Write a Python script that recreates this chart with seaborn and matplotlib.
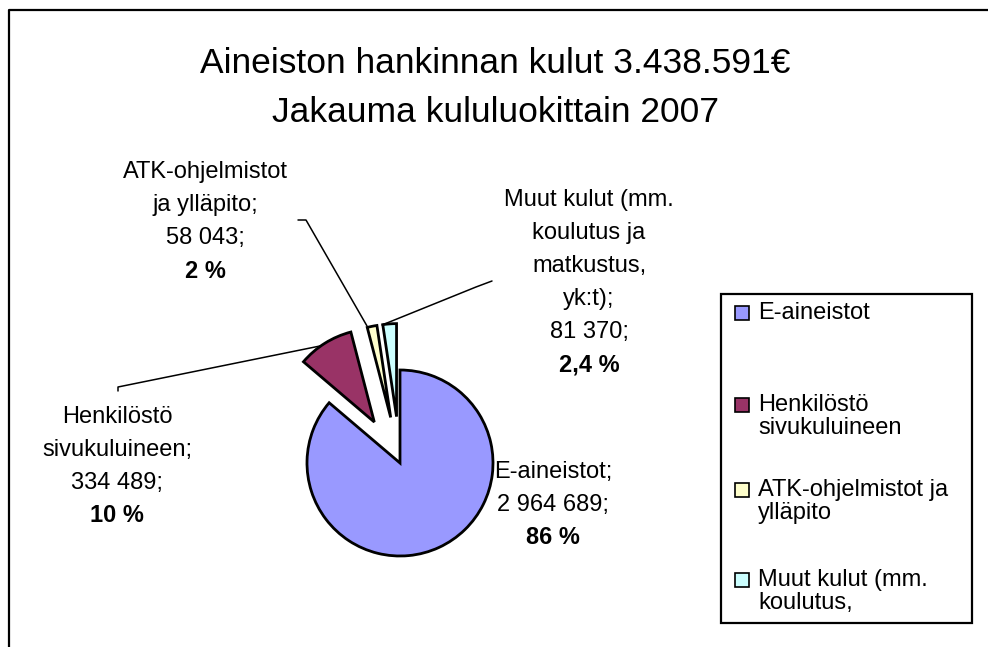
import matplotlib
matplotlib.use("Agg")
import matplotlib.pyplot as plt
import matplotlib.patches as mpatches
import seaborn as sns

# Aineiston hankinnan kulut 2007 (EUR)
kategoriat = ["E-aineistot", "Henkilöstö sivukuluineen",
              "ATK-ohjelmistot ja ylläpito",
              "Muut kulut (mm. koulutus ja matkustus, yk:t)"]
kulut = [2964689, 334489, 58043, 81370]
osuudet = ["86 %", "10 %", "2 %", "2,4 %"]
nimirivit = [
    ["E-aineistot;"],
    ["Henkilöstö", "sivukuluineen;"],
    ["ATK-ohjelmistot", "ja ylläpito;"],
    ["Muut kulut (mm.", "koulutus ja", "matkustus,", "yk:t);"],
]
selitteet = [["E-aineistot"], ["Henkilöstö", "sivukuluineen"],
             ["ATK-ohjelmistot ja", "ylläpito"], ["Muut kulut (mm.", "koulutus,"]]
varit = ["#9999FF", "#993366", "#FFFFCC", "#CCFFFF"]

sns.set_theme(style="white")
plt.rcParams["font.family"] = ["Liberation Sans", "DejaVu Sans"]
plt.rcParams["text.color"] = "black"

fig = plt.figure(figsize=(9.88, 6.47), dpi=100)
ax = fig.add_axes([0, 0, 1, 1])

# piirakka (pikselikoordinaatit, y-akseli alaspäin)
sade = 93
irrotus = [0, 0.52, 0.5, 0.5]
ax.pie(kulut, colors=sns.color_palette(varit),
       explode=[e * sade for e in irrotus],
       radius=sade, center=(400, 463), startangle=-90, counterclock=True,
       frame=True, wedgeprops=dict(edgecolor="black", linewidth=2))

ax.set_xlim(0, 988)
ax.set_ylim(647, 0)
ax.set_aspect("equal")
ax.axis("off")

# kehys
ax.plot([9, 9, 990], [650, 10, 10], color="black", lw=1.6)

# otsikko
ax.text(495, 73, "Aineiston hankinnan kulut 3.438.591€", ha="center",
        va="baseline", fontsize=25.5)
ax.text(495, 122, "Jakauma kululuokittain 2007", ha="center",
        va="baseline", fontsize=25.5)

# arvojen selitteet
paikat = [(553, 472), (117, 417), (205, 172), (589, 200)]
rivivali = 33
for (x, y), rivit, arvo, osuus in zip(paikat, nimirivit, kulut, osuudet):
    tekstit = rivit + [f"{arvo:,}".replace(",", " ") + ";"]
    for i, t in enumerate(tekstit):
        ax.text(x, y + i * rivivali, t, ha="center", va="center", fontsize=17)
    ax.text(x, y + len(tekstit) * rivivali, osuus, ha="center", va="center",
            fontsize=17, fontweight="bold")

# viivat
ax.plot([118, 118, 320], [391, 387, 346], color="black", lw=1.1)
ax.plot([298, 306, 367], [220, 220, 326], color="black", lw=1.1)
ax.plot([492, 476, 382], [281, 287, 325], color="black", lw=1.1)

# selite
ax.add_patch(mpatches.Rectangle((721, 294), 251, 329, fill=False,
                                edgecolor="black", lw=1.6))
selite_y = [313, 405, 490, 580]
for y, rivit, vari in zip(selite_y, selitteet, varit):
    ax.add_patch(mpatches.Rectangle((735, y - 7), 14, 14, facecolor=vari,
                                    edgecolor="black", lw=1.2))
    for i, t in enumerate(rivit):
        ax.text(758, y + i * 23, t, ha="left", va="center", fontsize=17)

plt.savefig("out.png", dpi=100)
